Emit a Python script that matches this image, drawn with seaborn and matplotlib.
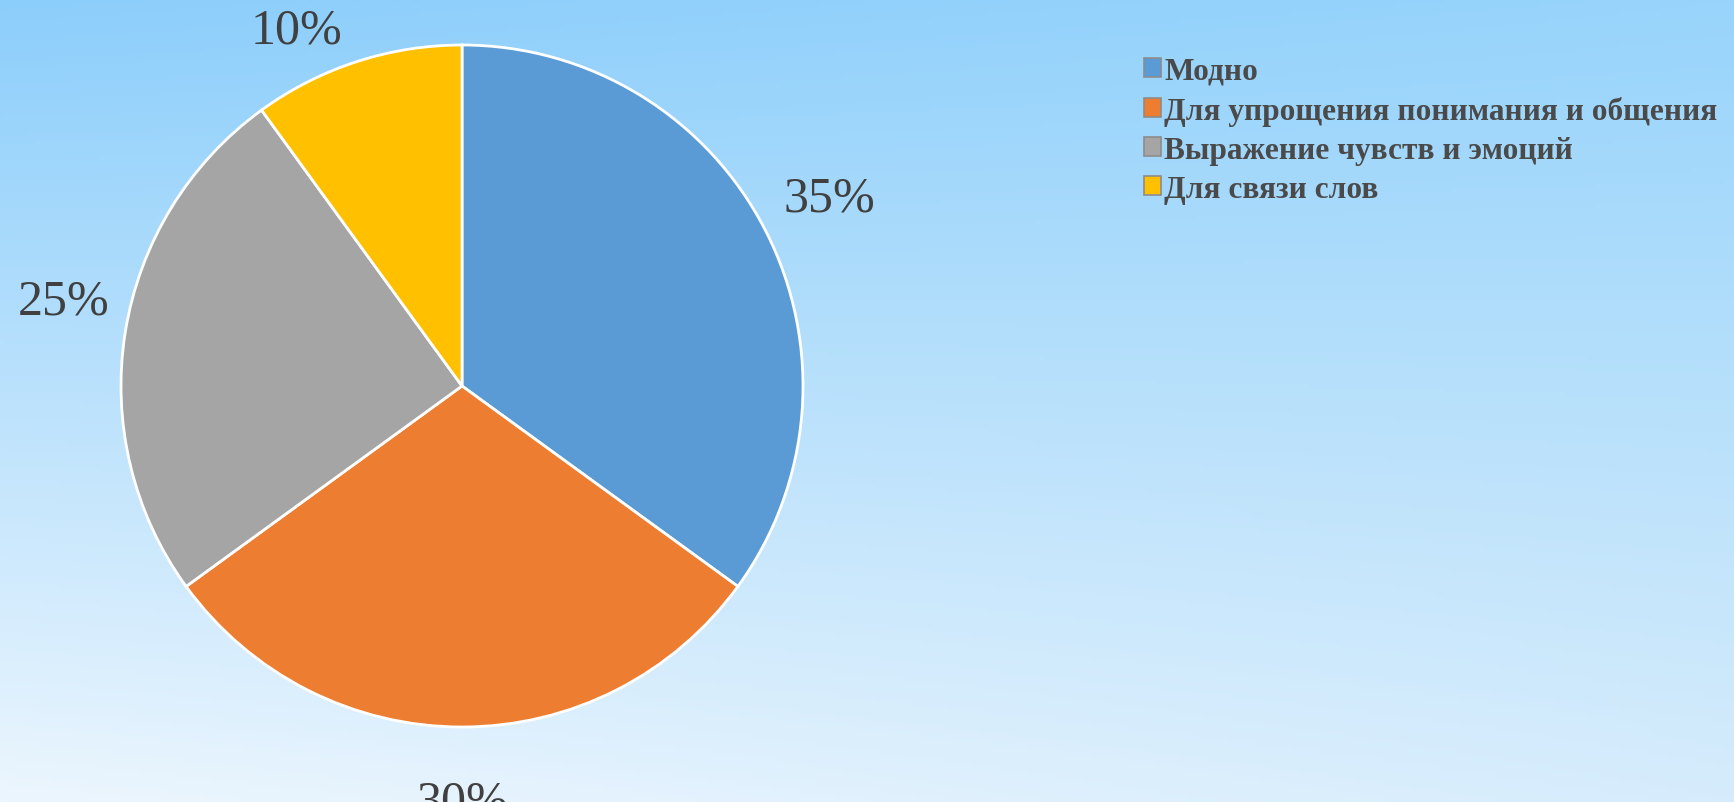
import numpy as np
import seaborn as sns
import matplotlib.pyplot as plt
from matplotlib.patches import Patch

# Data
categories = ['Модно', 'Для упрощения понимания и общения',
              'Выражение чувств и эмоций', 'Для связи слов']
shares = [35, 30, 25, 10]
colors = ['#5B9BD5', '#ED7D31', '#A5A5A5', '#FFC000']

# label placement tweaks (radius, angle shift in degrees)
label_dist = [1.21, 1.22, 1.195, 1.15]
label_shift = [0, 0, -3, 7]

sns.set_style("white")
plt.rcParams['font.family'] = ['Liberation Serif', 'DejaVu Serif']

fig = plt.figure(figsize=(17.34, 8.03), dpi=100)

# Gradient background
bg = fig.add_axes([0, 0, 1, 1])
h, w = 200, 400
yy, xx = np.mgrid[0:1:h * 1j, 0:1:w * 1j]
tl = np.array([140, 206, 251]) / 255
tr = np.array([152, 212, 251]) / 255
bl = np.array([236, 246, 254]) / 255
br = np.array([214, 236, 252]) / 255
grad = ((1 - yy)[..., None] * ((1 - xx)[..., None] * tl + xx[..., None] * tr)
        + yy[..., None] * ((1 - xx)[..., None] * bl + xx[..., None] * br))
bg.imshow(grad, aspect='auto', extent=[0, 1, 0, 1], origin='upper')
bg.axis('off')

# Pie
cx, cy, r = 462, 387, 341
W, H = 1734, 803
ax = fig.add_axes([(cx - r) / W, (H - cy - r) / H, 2 * r / W, 2 * r / H])
wedges, texts, autotexts = ax.pie(
    shares, colors=colors, startangle=90, counterclock=False,
    autopct='%1.0f%%', pctdistance=1.2,
    wedgeprops=dict(edgecolor='white', linewidth=2),
    textprops=dict(fontsize=36, color='#404040'))
for wd, t, d, s in zip(wedges, autotexts, label_dist, label_shift):
    ang = np.deg2rad((wd.theta1 + wd.theta2) / 2 + s)
    t.set_position((d * np.cos(ang), d * np.sin(ang)))
    t.set_clip_on(False)
ax.set_xlim(-1, 1)
ax.set_ylim(-1, 1)
ax.axis('off')

# Legend
handles = [Patch(facecolor=c, edgecolor='#8c8c8c', linewidth=1.2) for c in colors]
leg = fig.legend(handles, categories, loc='upper left',
                 bbox_to_anchor=(1128 / W, 1 - 42 / H), frameon=False,
                 prop=dict(size=22.6, weight='bold'),
                 handlelength=0.55, handleheight=0.55,
                 handletextpad=0.1, labelspacing=0.32, borderpad=0)
for t in leg.get_texts():
    t.set_color('#4a4a4a')

fig.savefig('out.png', dpi=100)
